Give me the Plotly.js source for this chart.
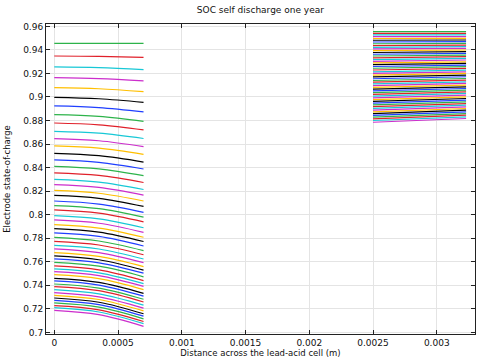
<!DOCTYPE html>
<html>
<head>
<meta charset="utf-8">
<script src="https://cdn.plot.ly/plotly-3.0.1.min.js"></script>
<style>html,body{margin:0;padding:0;background:#fff}#chart{width:484px;height:363px}</style>
</head>
<body>
<div id="chart"></div>
<script>
// x positions (m) where the profiles are sampled
const leftX = [0, 0.00035, 0.0007];
const rightX = [0.0025, 0.00323];

// negative electrode SOC at x = 0, 0.00035, 0.0007 (one line per time step, top to bottom)
const leftStart = [0.9456,0.9348,0.9255,0.9164,0.9079,0.8997,0.8924,0.8850,0.8779,0.8708,0.8646,0.8584,0.8521,0.8465,0.8411,0.8355,0.8300,0.8255,0.8207,0.8164,0.8116,0.8077,0.8040,0.7992,0.7955,0.7915,0.7881,0.7845,0.7807,0.7773,0.7739,0.7709,0.7677,0.7649,0.7624,0.7595,0.7564,0.7539,0.7516,0.7490,0.7459,0.7437,0.7411,0.7389,0.7363,0.7338,0.7315,0.7292,0.7272,0.7250,0.7227,0.7210,0.7187];
const leftMid = [0.9456,0.9345,0.9249,0.9156,0.9070,0.8985,0.8910,0.8835,0.8763,0.8692,0.8628,0.8565,0.8501,0.8444,0.8389,0.8333,0.8277,0.8231,0.8182,0.8139,0.8090,0.8051,0.8013,0.7964,0.7927,0.7886,0.7852,0.7815,0.7776,0.7742,0.7708,0.7677,0.7645,0.7617,0.7591,0.7562,0.7531,0.7505,0.7482,0.7456,0.7424,0.7402,0.7376,0.7354,0.7327,0.7302,0.7279,0.7256,0.7236,0.7214,0.7191,0.7173,0.7150];
const leftEnd = [0.9456,0.9337,0.9232,0.9136,0.9045,0.8954,0.8873,0.8793,0.8720,0.8647,0.8578,0.8512,0.8447,0.8388,0.8331,0.8273,0.8214,0.8166,0.8116,0.8070,0.8020,0.7979,0.7939,0.7889,0.7850,0.7808,0.7772,0.7734,0.7694,0.7659,0.7623,0.7592,0.7558,0.7529,0.7503,0.7472,0.7440,0.7414,0.7390,0.7363,0.7331,0.7308,0.7281,0.7258,0.7231,0.7206,0.7182,0.7158,0.7138,0.7115,0.7092,0.7074,0.7051];

// positive electrode SOC at x = 0.0025 and x = 0.00323
const rightStart = [0.9555,0.9541,0.9527,0.9512,0.9497,0.9482,0.9467,0.9452,0.9437,0.9422,0.9408,0.9393,0.9378,0.9363,0.9348,0.9333,0.9318,0.9303,0.9289,0.9274,0.9259,0.9244,0.9229,0.9214,0.9200,0.9185,0.9170,0.9155,0.9140,0.9126,0.9111,0.9096,0.9081,0.9066,0.9052,0.9037,0.9022,0.9007,0.8992,0.8977,0.8963,0.8948,0.8933,0.8918,0.8903,0.8888,0.8874,0.8859,0.8844,0.8829,0.8814,0.8800,0.8785];
const rightEnd = [0.9555,0.9541,0.9527,0.9512,0.9498,0.9484,0.9470,0.9456,0.9441,0.9427,0.9413,0.9399,0.9385,0.9370,0.9356,0.9342,0.9328,0.9314,0.9299,0.9285,0.9271,0.9257,0.9243,0.9228,0.9214,0.9200,0.9186,0.9172,0.9157,0.9143,0.9129,0.9115,0.9101,0.9086,0.9072,0.9058,0.9044,0.9030,0.9015,0.9001,0.8987,0.8973,0.8959,0.8944,0.8930,0.8916,0.8902,0.8888,0.8873,0.8859,0.8845,0.8831,0.8817];

const lineColors = ['#2db34a','#e0202a','#17c8d6','#cc2ecc','#ffbf00','#000000','#1f3fff'];

const xTickVals = [0,0.0005,0.001,0.0015,0.002,0.0025,0.003];
const xTickText = ['0','0.0005','0.001','0.0015','0.002','0.0025','0.003'];
const yTickVals = [0.7,0.72,0.74,0.76,0.78,0.8,0.82,0.84,0.86,0.88,0.9,0.92,0.94,0.96];
const yTickText = ['0.7','0.72','0.74','0.76','0.78','0.8','0.82','0.84','0.86','0.88','0.9','0.92','0.94','0.96'];

const traces = [];
for (let i = 0; i < leftStart.length; i++) {
  const c = lineColors[i % lineColors.length];
  traces.push({x: leftX, y: [leftStart[i], leftMid[i], leftEnd[i]], mode: 'lines',
    line: {color: c, width: 1.2, shape: 'spline'}, hoverinfo: 'skip', showlegend: false});
}
for (let i = 0; i < rightStart.length; i++) {
  const c = lineColors[i % lineColors.length];
  traces.push({x: rightX, y: [rightStart[i], rightEnd[i]], mode: 'lines',
    line: {color: c, width: 1.2}, hoverinfo: 'skip', showlegend: false});
}

const axisCommon = {
  showline: true, linecolor: '#222', linewidth: 1, mirror: 'ticks',
  ticks: 'inside', ticklen: 4, tickcolor: '#222',
  showgrid: true, gridcolor: '#e4e4e4', gridwidth: 1, zeroline: false,
  tickfont: {family: 'DejaVu Sans', size: 9, color: '#111'}
};

const layout = {
  width: 484, height: 363,
  margin: {l: 46, r: 9, t: 24, b: 29},
  paper_bgcolor: '#fff', plot_bgcolor: '#fff',
  font: {family: 'DejaVu Sans', color: '#111'},
  title: {text: 'SOC self discharge one year', font: {family: 'DejaVu Sans', size: 9, color: '#111'},
    x: 0.538, xanchor: 'center', y: 0.972, yanchor: 'middle', xref: 'container', yref: 'container'},
  xaxis: Object.assign({}, axisCommon, {
    range: [-0.000065, 0.0033], tickvals: xTickVals, ticktext: xTickText,
    title: {text: 'Distance across the lead-acid cell (m)', font: {family: 'DejaVu Sans', size: 8.5, color: '#111'}, standoff: 2}
  }),
  yaxis: Object.assign({}, axisCommon, {
    range: [0.6986, 0.962], tickvals: yTickVals, ticktext: yTickText,
    title: {text: 'Electrode state-of-charge', font: {family: 'DejaVu Sans', size: 8.5, color: '#111'}, standoff: 11}
  }),
  hovermode: false
};

Plotly.newPlot('chart', traces, layout, {staticPlot: true, displayModeBar: false});
</script>
</body>
</html>
